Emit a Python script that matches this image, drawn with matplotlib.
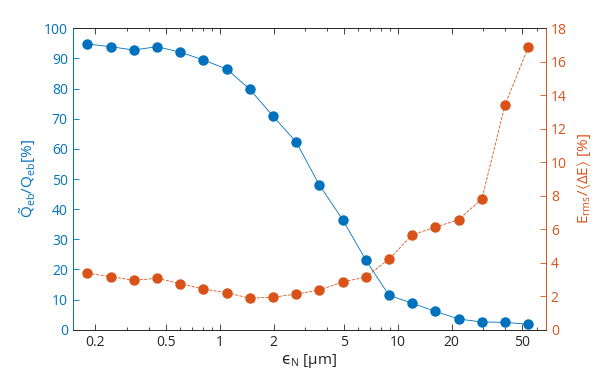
import matplotlib
matplotlib.use("Agg")
import matplotlib.pyplot as plt
from matplotlib.ticker import FixedLocator, FixedFormatter, LogLocator, NullFormatter

plt.rcParams['font.family'] = ['Open Sans', 'DejaVu Sans']
plt.rcParams['mathtext.fontset'] = 'custom'
plt.rcParams['mathtext.rm'] = 'Open Sans'
plt.rcParams['mathtext.it'] = 'DejaVu Sans'
plt.rcParams['mathtext.sf'] = 'Open Sans'
plt.rcParams['mathtext.fallback'] = 'stixsans'

eps_n = [0.18, 0.243, 0.328, 0.443, 0.598, 0.807, 1.09, 1.47, 1.99, 2.68,
         3.62, 4.89, 6.6, 8.91, 12.0, 16.2, 21.9, 29.6, 39.9, 53.9]
q_ratio = [94.8, 93.9, 92.8, 93.9, 92.1, 89.5, 86.5, 79.8, 70.8, 62.3,
           48.0, 36.5, 23.1, 11.4, 8.8, 6.1, 3.55, 2.55, 2.45, 1.8]
e_rms = [3.37, 3.17, 2.95, 3.07, 2.75, 2.43, 2.21, 1.88, 1.94, 2.13,
         2.37, 2.85, 3.15, 4.21, 5.66, 6.12, 6.57, 7.81, 13.42, 16.87]
xticks = [0.2, 0.5, 1, 2, 5, 10, 20, 50]
xticklabels = ['0.2', '0.5', '1', '2', '5', '10', '20', '50']

blue = '#0072BD'
orange = '#D95319'
dark = '#262626'

fig = plt.figure(figsize=(5.98, 3.75), dpi=100)
ax = fig.add_axes([0.1216, 0.1208, 0.913 - 0.1216, 0.9245 - 0.1208])
ax2 = ax.twinx()

ax.plot(eps_n, q_ratio, '-', color=blue, lw=0.6, marker='o', ms=6.5,
        mfc=blue, mec=blue)
ax2.plot(eps_n, e_rms, '--', color=orange, lw=0.6, marker='o', ms=6.5,
         mfc=orange, mec=orange)

ax.set_xscale('log')
ax.set_xlim(0.149, 67.8)
ax.set_ylim(0, 100)
ax2.set_ylim(0, 18)
ax.xaxis.set_major_locator(FixedLocator(xticks))
ax.xaxis.set_major_formatter(FixedFormatter(xticklabels))
ax.xaxis.set_minor_locator(LogLocator(base=10, subs=range(1, 10), numticks=20))
ax.xaxis.set_minor_formatter(NullFormatter())
ax.set_yticks(range(0, 101, 10))
ax2.set_yticks(range(0, 19, 2))

for a in (ax, ax2):
    a.tick_params(which='both', direction='in', top=True, labelsize=10)
    a.tick_params(which='major', length=4, width=0.6)
    a.tick_params(which='minor', length=2, width=0.5)

ax.tick_params(axis='x', colors=dark, labelcolor=dark)
ax.tick_params(axis='y', colors=blue, labelcolor=blue)
ax2.tick_params(axis='y', colors=orange, labelcolor=orange)

for a in (ax, ax2):
    a.spines['left'].set_color(blue)
    a.spines['right'].set_color(orange)
    a.spines['top'].set_color(dark)
    a.spines['bottom'].set_color(dark)
    for s in a.spines.values():
        s.set_linewidth(0.6)

ax.set_xlabel('$ϵ_{\\mathrm{N}}$ [μm]', fontsize=11, color=dark, labelpad=2)
ax.set_ylabel(r'$\tilde{\mathrm{Q}}_{\mathrm{eb}}/\mathrm{Q}_{\mathrm{eb}}$[%]',
              fontsize=11, color=blue, labelpad=4)
ax2.set_ylabel(r'E$_{\mathrm{rms}}/\langle\Delta$E$\rangle$ [%]',
               fontsize=11, color=orange, labelpad=6)

fig.savefig('out.png', dpi=100)
